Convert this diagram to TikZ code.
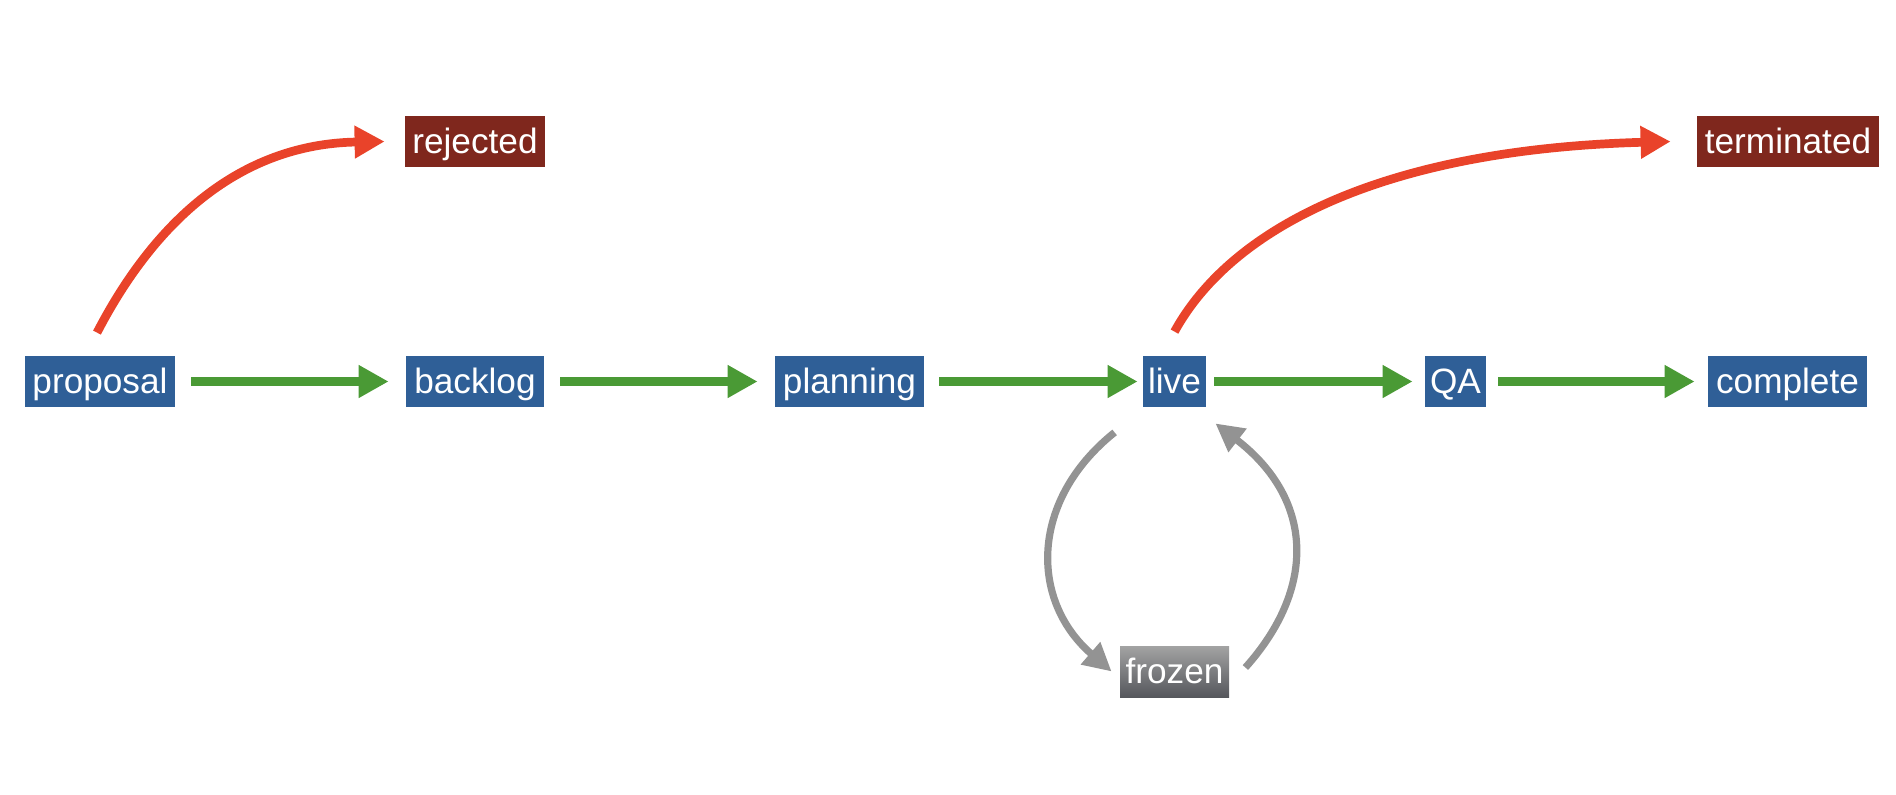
\documentclass[tikz,border=0pt]{standalone}
\usepackage{fontspec}
\setmainfont{Liberation Sans}
\usetikzlibrary{arrows.meta,calc}
\definecolor{stblue}{HTML}{2F5F97}
\definecolor{stred}{HTML}{7F271D}
\definecolor{agreen}{HTML}{4A9A35}
\definecolor{ared}{HTML}{E9432A}
\definecolor{agray}{HTML}{939393}
\definecolor{frtop}{HTML}{A3A3A3}
\definecolor{frbot}{HTML}{55575C}
\begin{document}
\begin{tikzpicture}[x=0.5pt,y=-0.5pt,
  box/.style={text=white,inner xsep=1pt,inner ysep=0pt,minimum height=25.5pt,
    text height=14pt,text depth=2.5pt,
    font=\fontsize{17.6}{20}\selectfont},
  bluebox/.style={box,fill=stblue},
  redbox/.style={box,fill=stred},
  graybox/.style={box,top color=frtop,bottom color=frbot},
  flow/.style={line width=4.35pt,-{Triangle[length=15pt,width=15.5pt]}},
  greenarrow/.style={flow,draw=agreen},
  redarrow/.style={flow,draw=ared},
  grayarrow/.style={flow,draw=agray,line width=3.6pt,-{Triangle[length=14pt,width=14pt]}}]
\useasboundingbox (0,0) rectangle (1896,794);
\node[bluebox,minimum width=75pt] (proposal) at (100,381.5) {proposal};
\node[bluebox,minimum width=69pt] (backlog) at (475,381.5) {backlog};
\node[bluebox,minimum width=74.5pt] (planning) at (849.5,381.5) {planning};
\node[bluebox,minimum width=31.5pt] (live) at (1174.5,381.5) {live};
\node[bluebox,minimum width=30.5pt] (QA) at (1455.5,381.5) {QA};
\node[bluebox,minimum width=79.5pt] (complete) at (1787.5,381.5) {complete};
\node[redbox,minimum width=70pt] (rejected) at (475,141.5) {rejected};
\node[redbox,minimum width=91pt] (terminated) at (1788,141.5) {terminated};
\node[graybox,minimum width=54.5pt] (frozen) at (1174.5,671.5) {frozen};
\draw[greenarrow,shorten <=8pt,shorten >=8.5pt] (proposal) -- (backlog);
\draw[greenarrow,shorten <=8pt,shorten >=8.5pt] (backlog) -- (planning);
\draw[greenarrow,shorten <=7.5pt,shorten >=2.5pt] (planning) -- (live);
\draw[greenarrow,shorten <=4pt,shorten >=6pt] (live) -- (QA);
\draw[greenarrow,shorten <=6pt,shorten >=6.5pt] (QA) -- (complete);
\draw[redarrow] ($(proposal.north)+(-3,-23)$) .. controls +(43,-83) and +(-165,3) .. ($(rejected.west)+(-20,0)$);
\draw[redarrow] ($(live.north)+(0,-24)$) .. controls +(56,-102) and +(-291,8) .. ($(terminated.west)+(-26,0)$);
\draw[grayarrow] ($(live.south west)+(-28,25)$) .. controls +(-85,68) and +(-82,-71) .. ($(frozen.west)+(-8,0)$);
\draw[grayarrow] ($(frozen.east)+(16,-4)$) .. controls +(70,-78) and +(100,77) .. ($(live.south east)+(9,16)$);
\end{tikzpicture}
\end{document}
